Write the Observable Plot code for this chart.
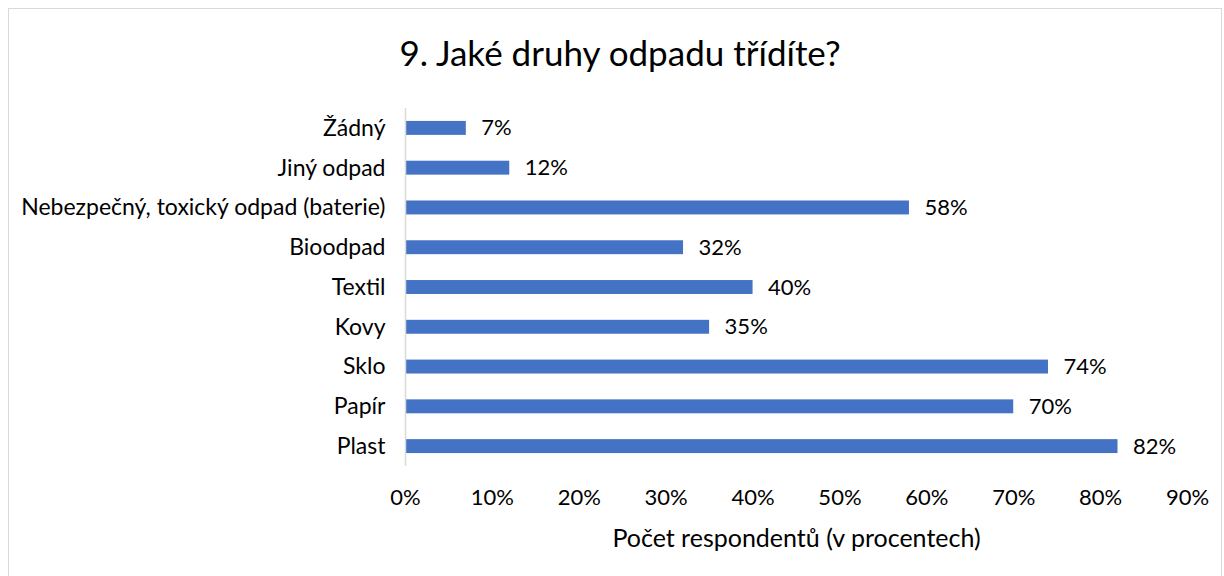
<!DOCTYPE html>
<html>
<head>
<meta charset="utf-8">
<script src="https://cdn.jsdelivr.net/npm/d3@7"></script>
<script src="https://cdn.jsdelivr.net/npm/@observablehq/plot@0.6"></script>
<style>
  body { margin: 0; background: #fff; font-family: Lato, "Open Sans", sans-serif; }
  #frame { position: absolute; left: 8px; top: 8px; width: 1212px; height: 580px; border: 1px solid #d9d9d9; background: #fff; }
  #title { height: 94px; line-height: 86px; text-align: center; font-size: 35px; color: #000; padding-left: 10px; box-sizing: border-box; }
</style>
</head>
<body>
<div id="frame">
  <div id="title">9. Jaké druhy odpadu třídíte?</div>
  <div id="chart"></div>
</div>
<script>
const categories = ["Žádný", "Jiný odpad", "Nebezpečný, toxický odpad (baterie)", "Bioodpad", "Textil", "Kovy", "Sklo", "Papír", "Plast"];
const values = [7, 12, 58, 32, 40, 35, 74, 70, 82];
const xTicks = [0, 10, 20, 30, 40, 50, 60, 70, 80, 90];
const xLabel = "Počet respondentů (v procentech)";

const data = categories.map((c, i) => ({category: c, value: values[i]}));

const chart = Plot.plot({
  width: 1212,
  height: 460,
  marginLeft: 396,
  marginRight: 34,
  marginTop: 5,
  marginBottom: 97,
  style: {fontFamily: "Lato, 'Open Sans', sans-serif", fontSize: "22px", color: "#000", background: "transparent"},
  x: {domain: [0, 90], ticks: xTicks, tickFormat: d => d + "%", label: null},
  y: {domain: categories, paddingInner: 0.65, paddingOuter: 0.325, round: false, label: null},
  marks: [
    Plot.barX(data, {x: "value", y: "category", fill: "#4472C4"}),
    Plot.ruleX([0], {stroke: "#d9d9d9", strokeWidth: 1.5}),
    Plot.text(data, {x: "value", y: "category", text: d => d.value + "%", textAnchor: "start", dx: 15, fontSize: 22, fill: "#000"}),
    Plot.axisX({ticks: xTicks, tickFormat: d => d + "%", tickSize: 0, tickPadding: 23, fontSize: 22, label: null}),
    Plot.axisY({tickSize: 0, tickPadding: 20, fontSize: 23, label: null}),
    Plot.text([xLabel], {frameAnchor: "bottom", dy: 80, text: d => d, fontSize: 25, fill: "#000"})
  ]
});
document.getElementById("chart").appendChild(chart);
</script>
</body>
</html>
